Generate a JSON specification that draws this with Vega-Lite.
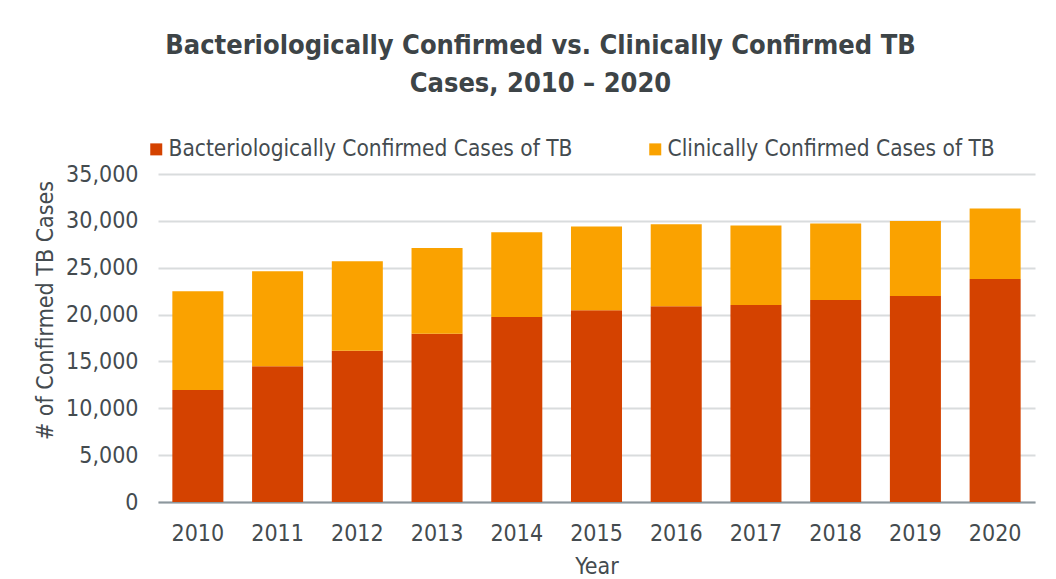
{
  "$schema": "https://vega.github.io/schema/vega-lite/v6.json",
  "width": 877,
  "height": 328,
  "autosize": "none",
  "padding": {"left": 158, "top": 174, "right": 21, "bottom": 77},
  "background": "white",
  "title": {
    "text": ["Bacteriologically Confirmed vs. Clinically Confirmed TB", "Cases, 2010 – 2020"],
    "font": "DejaVu Sans Condensed, sans-serif",
    "fontSize": 27,
    "fontWeight": "bold",
    "color": "#3D4447",
    "anchor": "middle",
    "dx": -56,
    "offset": 40,
    "lineHeight": 38
  },
  "data": {
    "values": [
      {"year": "2010", "type": "Bacteriologically Confirmed Cases of TB", "o": 1, "cases": 11950},
      {"year": "2010", "type": "Clinically Confirmed Cases of TB", "o": 2, "cases": 10530},
      {"year": "2011", "type": "Bacteriologically Confirmed Cases of TB", "o": 1, "cases": 14480},
      {"year": "2011", "type": "Clinically Confirmed Cases of TB", "o": 2, "cases": 10140},
      {"year": "2012", "type": "Bacteriologically Confirmed Cases of TB", "o": 1, "cases": 16150},
      {"year": "2012", "type": "Clinically Confirmed Cases of TB", "o": 2, "cases": 9530},
      {"year": "2013", "type": "Bacteriologically Confirmed Cases of TB", "o": 1, "cases": 17960},
      {"year": "2013", "type": "Clinically Confirmed Cases of TB", "o": 2, "cases": 9150},
      {"year": "2014", "type": "Bacteriologically Confirmed Cases of TB", "o": 1, "cases": 19740},
      {"year": "2014", "type": "Clinically Confirmed Cases of TB", "o": 2, "cases": 9040},
      {"year": "2015", "type": "Bacteriologically Confirmed Cases of TB", "o": 1, "cases": 20460},
      {"year": "2015", "type": "Clinically Confirmed Cases of TB", "o": 2, "cases": 8930},
      {"year": "2016", "type": "Bacteriologically Confirmed Cases of TB", "o": 1, "cases": 20880},
      {"year": "2016", "type": "Clinically Confirmed Cases of TB", "o": 2, "cases": 8750},
      {"year": "2017", "type": "Bacteriologically Confirmed Cases of TB", "o": 1, "cases": 21030},
      {"year": "2017", "type": "Clinically Confirmed Cases of TB", "o": 2, "cases": 8470},
      {"year": "2018", "type": "Bacteriologically Confirmed Cases of TB", "o": 1, "cases": 21560},
      {"year": "2018", "type": "Clinically Confirmed Cases of TB", "o": 2, "cases": 8150},
      {"year": "2019", "type": "Bacteriologically Confirmed Cases of TB", "o": 1, "cases": 21990},
      {"year": "2019", "type": "Clinically Confirmed Cases of TB", "o": 2, "cases": 8000},
      {"year": "2020", "type": "Bacteriologically Confirmed Cases of TB", "o": 1, "cases": 23800},
      {"year": "2020", "type": "Clinically Confirmed Cases of TB", "o": 2, "cases": 7510}
    ]
  },
  "mark": {"type": "bar"},
  "encoding": {
    "x": {
      "field": "year",
      "type": "nominal",
      "scale": {"paddingInner": 0.36, "paddingOuter": 0.18},
      "axis": {
        "title": "Year",
        "labelAngle": 0,
        "labelFont": "DejaVu Sans Condensed, sans-serif",
        "labelFontSize": 23,
        "labelColor": "#444B4F",
        "labelPadding": 20,
        "ticks": false,
        "domainColor": "#8C979D",
        "domainWidth": 2,
        "titleFont": "DejaVu Sans Condensed, sans-serif",
        "titleFontSize": 23,
        "titleFontWeight": "normal",
        "titleColor": "#444B4F",
        "titlePadding": 10
      }
    },
    "y": {
      "field": "cases",
      "type": "quantitative",
      "stack": "zero",
      "scale": {"domain": [0, 35000]},
      "axis": {
        "title": "# of Confirmed TB Cases",
        "values": [0, 5000, 10000, 15000, 20000, 25000, 30000, 35000],
        "format": ",d",
        "labelFont": "DejaVu Sans Condensed, sans-serif",
        "labelFontSize": 23,
        "labelColor": "#444B4F",
        "labelPadding": 20,
        "ticks": false,
        "domain": false,
        "gridColor": "#D9DCDD",
        "gridWidth": 2,
        "titleFont": "DejaVu Sans Condensed, sans-serif",
        "titleFontSize": 23,
        "titleFontWeight": "normal",
        "titleColor": "#444B4F",
        "titleAngle": -90,
        "titleX": -113,
        "titleY": 136,
        "titleAlign": "center",
        "titleBaseline": "middle"
      }
    },
    "color": {
      "field": "type",
      "type": "nominal",
      "scale": {
        "domain": ["Bacteriologically Confirmed Cases of TB", "Clinically Confirmed Cases of TB"],
        "range": ["#D44200", "#FAA200"]
      },
      "legend": {
        "title": null,
        "orient": "none",
        "direction": "horizontal",
        "legendX": -13,
        "legendY": -36,
        "symbolType": "square",
        "symbolSize": 144,
        "symbolStrokeWidth": 0,
        "labelFont": "DejaVu Sans Condensed, sans-serif",
        "labelFontSize": 22.5,
        "labelColor": "#444B4F",
        "labelOffset": 1,
        "columnPadding": 71,
        "labelLimit": 600
      }
    },
    "order": {"field": "o", "type": "quantitative"}
  },
  "config": {
    "view": {"stroke": null},
    "axis": {"gridCap": "butt"}
  }
}
